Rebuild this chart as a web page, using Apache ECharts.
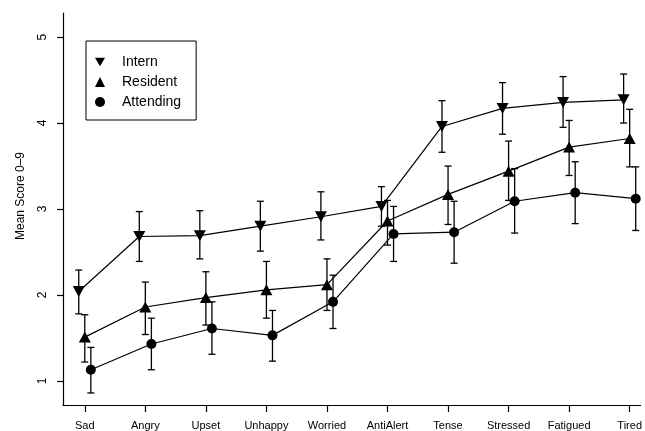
<!DOCTYPE html>
<html>
<head>
<meta charset="utf-8">
<script src="https://cdn.jsdelivr.net/npm/echarts@6/dist/echarts.min.js"></script>
<style>
html,body{margin:0;padding:0;background:#fff}
#chart{width:645px;height:431px}
</style>
</head>
<body>
<div id="chart"></div>
<script>
var categories = ['Sad','Angry','Upset','Unhappy','Worried','AntiAlert','Tense','Stressed','Fatigued','Tired'];
var yTicks = [1, 2, 3, 4, 5];

var internMean = [2.04, 2.68, 2.69, 2.80, 2.91, 3.03, 3.96, 4.17, 4.24, 4.27];
var internLow  = [1.78, 2.39, 2.42, 2.51, 2.64, 2.80, 3.66, 3.87, 3.95, 4.00];
var internHigh = [2.29, 2.97, 2.98, 3.09, 3.20, 3.26, 4.26, 4.47, 4.54, 4.57];

var residentMean = [1.51, 1.86, 1.97, 2.06, 2.12, 2.86, 3.17, 3.44, 3.72, 3.82];
var residentLow  = [1.22, 1.54, 1.65, 1.73, 1.82, 2.58, 2.82, 3.10, 3.39, 3.49];
var residentHigh = [1.77, 2.15, 2.27, 2.39, 2.42, 3.10, 3.50, 3.79, 4.03, 4.16];

var attendingMean = [1.13, 1.43, 1.61, 1.53, 1.92, 2.71, 2.73, 3.09, 3.19, 3.12];
var attendingLow  = [0.86, 1.13, 1.31, 1.23, 1.61, 2.39, 2.37, 2.72, 2.83, 2.75];
var attendingHigh = [1.39, 1.73, 1.92, 1.82, 2.23, 3.03, 3.09, 3.47, 3.55, 3.49];

var downTri = 'path://M0,0L10,0L5,8.66Z';
var font = 'Liberation Sans, Arial, sans-serif';

var chart = echarts.init(document.getElementById('chart'));

// one group = line with markers + error bars, shifted a bit sideways
function group(name, mean, low, high, shift, symbol, size) {
    var pts = [], bars = [];
    for (var i = 0; i < categories.length; i++) {
        pts.push([i + shift, mean[i]]);
        bars.push([i + shift, low[i], high[i]]);
    }
    return [
        {
            name: name,
            type: 'line',
            data: pts,
            symbol: symbol,
            symbolSize: size,
            showAllSymbol: true,
            itemStyle: {color: '#000'},
            lineStyle: {color: '#000', width: 1.2},
            z: 3
        },
        {
            name: name,
            type: 'custom',
            data: bars,
            encode: {x: 0, y: [1, 2]},
            renderItem: function (params, api) {
                var top = api.coord([api.value(0), api.value(2)]);
                var bot = api.coord([api.value(0), api.value(1)]);
                var w = 3.5;
                var st = {stroke: '#000', lineWidth: 1.3};
                return {
                    type: 'group',
                    children: [
                        {type: 'line', shape: {x1: top[0], y1: top[1], x2: bot[0], y2: bot[1]}, style: st},
                        {type: 'line', shape: {x1: top[0] - w, y1: top[1], x2: top[0] + w, y2: top[1]}, style: st},
                        {type: 'line', shape: {x1: bot[0] - w, y1: bot[1], x2: bot[0] + w, y2: bot[1]}, style: st}
                    ]
                };
            },
            z: 2
        }
    ];
}

var series = []
    .concat(group('Intern', internMean, internLow, internHigh, -0.1, downTri, [12, 11]))
    .concat(group('Resident', residentMean, residentLow, residentHigh, 0, 'triangle', [12, 11]))
    .concat(group('Attending', attendingMean, attendingLow, attendingHigh, 0.1, 'circle', 10));

var option = {
    animation: false,
    backgroundColor: '#fff',
    textStyle: {fontFamily: font},
    grid: {left: 63, right: 0, top: 13, bottom: 23},
    legend: {
        orient: 'vertical',
        left: 86,
        top: 41,
        padding: [14, 15, 11, 9],
        borderColor: '#000',
        borderWidth: 1,
        borderRadius: 0,
        itemWidth: 10,
        itemHeight: 10,
        itemGap: 6,
        textStyle: {fontSize: 14, color: '#000', fontFamily: font, padding: [0, 0, 0, 12]},
        data: [
            {name: 'Intern', icon: downTri, itemStyle: {color: '#000'}},
            {name: 'Resident', icon: 'triangle', itemStyle: {color: '#000'}},
            {name: 'Attending', icon: 'circle', itemStyle: {color: '#000'}}
        ]
    },
    xAxis: {
        type: 'value',
        min: -0.36,
        max: 9.18,
        splitLine: {show: false},
        axisLine: {show: true, onZero: false, lineStyle: {color: '#000', width: 1.2}},
        axisTick: {show: true, length: 7, customValues: categories.map(function (c, i) { return i; }), lineStyle: {color: '#000', width: 1.2}},
        axisLabel: {
            customValues: categories.map(function (c, i) { return i; }),
            formatter: function (v) { return categories[Math.round(v)]; },
            fontSize: 11,
            color: '#000',
            margin: 15,
            fontFamily: font
        }
    },
    yAxis: {
        type: 'value',
        min: 0.72,
        max: 5.28,
        name: 'Mean Score 0\u20139',
        nameLocation: 'middle',
        nameRotate: 90,
        nameGap: 36,
        nameTextStyle: {fontSize: 12, color: '#000', fontFamily: font, padding: [0, 0, 0, 26]},
        splitLine: {show: false},
        axisLine: {show: true, onZero: false, lineStyle: {color: '#000', width: 1.2}},
        axisTick: {show: true, length: 6, customValues: yTicks, lineStyle: {color: '#000', width: 1.2}},
        axisLabel: {
            customValues: yTicks,
            rotate: 90,
            fontSize: 12,
            color: '#000',
            margin: 14,
            fontFamily: font
        }
    },
    series: series
};

chart.setOption(option);
</script>
</body>
</html>
